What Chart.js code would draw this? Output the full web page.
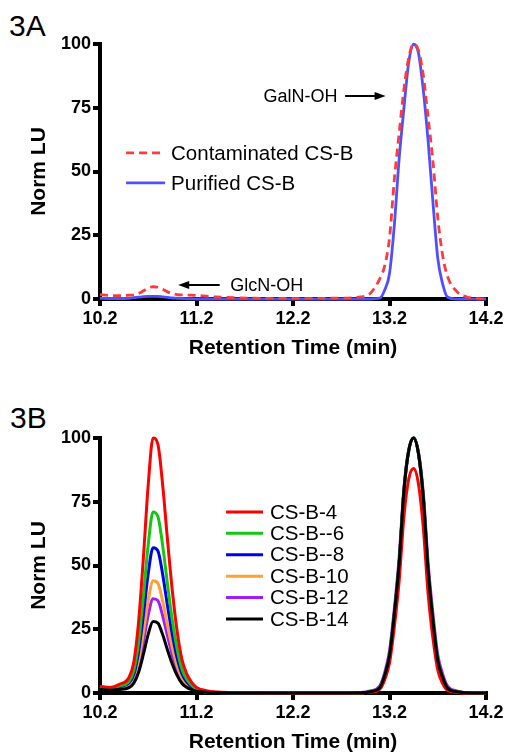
<!DOCTYPE html>
<html>
<head>
<meta charset="utf-8">
<script src="https://cdn.jsdelivr.net/npm/chart.js@4/dist/chart.umd.min.js"></script>
<style>
  html, body { margin: 0; padding: 0; background: #fff; overflow: hidden; }
  body { width: 507px; height: 755px; position: relative; font-family: "Liberation Sans", Arial, sans-serif; }
  .panel { position: absolute; left: 0; }
  .tag { position: absolute; font-size: 30px; color: #000; }
</style>
</head>
<body>
<div class="tag" style="left:9px;top:9px">3A</div>
<div class="tag" style="left:10px;top:401px">3B</div>
<canvas id="chartA" class="panel" style="top:0" width="507" height="380"></canvas>
<canvas id="chartB" class="panel" style="top:394px" width="507" height="380"></canvas>
<script>
// retention times (min), shared by both panels
const times = [10.2, 10.3, 10.4, 10.5, 10.55, 10.6, 10.65, 10.7, 10.75, 10.8, 10.85, 10.9, 10.95, 11.0,
  11.05, 11.1, 11.15, 11.2, 11.3, 11.4,
  11.8, 12.2, 12.6, 12.9,
  13.0, 13.1, 13.15, 13.2, 13.25, 13.3, 13.35, 13.4, 13.45, 13.5, 13.55, 13.6, 13.65, 13.7, 13.75, 13.8,
  13.9, 14.0, 14.1, 14.2];

const xTicks = [10.2, 11.2, 12.2, 13.2, 14.2];
const yTicks = [0, 25, 50, 75, 100];

// panel A
const contaminated = [1.8, 1.4, 1.3, 1.5, 1.6, 2.2, 3.2, 4.3, 4.8, 4.6, 3.8, 2.8, 2.1, 1.7,
  1.6, 1.5, 1.5, 1.4, 1.1, 0.8,
  0.3, 0.2, 0.3, 0.8,
  2.2, 8, 13, 24, 46.8, 65, 82.4, 94.8, 100, 97.5, 87.8, 71.2, 54, 32, 17.2, 9,
  2.8, 0.8, 0.2, 0];
const purified = [0.3, 0.2, 0.2, 0.3, 0.5, 0.7, 0.9, 1.0, 1.0, 1.0, 0.8, 0.6, 0.4, 0.3,
  0.2, 0.1, 0.1, 0, 0, 0,
  0, 0, 0, 0,
  0, 0.3, 3.5, 10, 29, 55, 75, 93, 99.9, 96.5, 82, 62, 38, 16, 6, 0.8,
  0, 0, 0, 0];

// panel B
const csb4 = [2.7, 2.2, 3.4, 6.1, 12.1, 27.9, 53.3, 81.8, 100, 97.5, 81.3, 59.8, 39.9, 24.0,
  13.0, 7.4, 4.2, 2.2, 0.9, 0.4,
  0.1, 0, 0, 0.1,
  0.3, 1.5, 5.2, 11.8, 26, 44, 69.5, 84, 88, 82, 65, 39, 21.5, 9, 3.8, 1.1,
  0.2, 0, 0, 0];
const csb6 = [2.4, 1.9, 2.8, 4.6, 8.8, 20, 38.1, 58.3, 71, 69.2, 57.7, 42.5, 28.3, 17.1,
  9.2, 5.3, 3.1, 1.6, 0.7, 0.3,
  0.1, 0, 0, 0.1,
  0.5, 2.1, 6.9, 14.7, 31, 50.9, 79.5, 95.2, 100, 93.9, 76.8, 48.4, 28.6, 12.9, 6.3, 2,
  0.5, 0.1, 0, 0];
const csb8 = [2.2, 1.8, 2.4, 3.9, 7.2, 16.2, 30.7, 46.9, 57, 55.7, 46.4, 34.1, 22.8, 13.7,
  7.5, 4.3, 2.5, 1.3, 0.5, 0.2,
  0.1, 0, 0, 0.1,
  0.5, 2.1, 6.9, 14.7, 31, 50.9, 79.5, 95.2, 100, 93.9, 76.8, 48.4, 28.6, 12.9, 6.3, 2,
  0.5, 0.1, 0, 0];
const csb10 = [2.0, 1.6, 2.1, 3.2, 5.8, 12.7, 23.8, 36.3, 44, 43, 35.9, 26.4, 17.7, 10.6,
  5.8, 3.3, 2.0, 1.1, 0.4, 0.2,
  0.1, 0, 0, 0.1,
  0.5, 2.1, 6.9, 14.7, 31, 50.9, 79.5, 95.2, 100, 93.9, 76.8, 48.4, 28.6, 12.9, 6.3, 2,
  0.5, 0.1, 0, 0];
const csb12 = [1.8, 1.4, 1.9, 2.8, 4.9, 10.7, 20.1, 30.6, 37, 36.2, 30.2, 22.3, 14.8, 9,
  5, 2.8, 1.7, 0.9, 0.4, 0.2,
  0.1, 0, 0, 0.2,
  0.8, 2.8, 8, 16.5, 33, 53, 80.5, 95.5, 100, 94.5, 78.5, 51, 31, 15, 7.5, 2.8,
  0.7, 0.1, 0, 0];
const csb14 = [1.4, 1.1, 1.4, 2.1, 3.8, 8.1, 15.2, 23.1, 28, 27.4, 22.8, 16.8, 11.3, 6.8,
  3.7, 2.2, 1.3, 0.7, 0.3, 0.1,
  0, 0, 0, 0.1,
  0.5, 2.1, 6.9, 14.7, 31, 50.9, 79.5, 95.2, 100, 93.9, 76.8, 48.4, 28.6, 12.9, 6.3, 2,
  0.5, 0.1, 0, 0];

const points = vals => times.map((t, i) => ({ x: t, y: vals[i] }));

// legend drawn inside the plot, anchored in data units
const inlineLegend = {
  id: 'inlineLegend',
  afterDatasetsDraw(chart, args, opts) {
    const { ctx, scales: { x, y } } = chart;
    const left = x.getPixelForValue(opts.x);
    let top = y.getPixelForValue(opts.y);
    ctx.save();
    ctx.font = opts.font;
    ctx.textBaseline = 'middle';
    chart.data.datasets.forEach(ds => {
      ctx.strokeStyle = ds.borderColor;
      ctx.lineWidth = ds.borderWidth;
      ctx.setLineDash(ds.borderDash || []);
      ctx.beginPath();
      ctx.moveTo(left, top);
      ctx.lineTo(left + opts.sample, top);
      ctx.stroke();
      ctx.setLineDash([]);
      ctx.fillStyle = '#000';
      ctx.fillText(ds.label, left + opts.sample + opts.gap, top + 1);
      top += opts.rowHeight;
    });
    ctx.restore();
  }
};

// peak labels with arrows
const peakNotes = {
  id: 'peakNotes',
  afterDatasetsDraw(chart, args, opts) {
    if (!opts.notes) return;
    const { ctx, scales: { x, y } } = chart;
    ctx.save();
    ctx.font = opts.font;
    ctx.textBaseline = 'middle';
    ctx.fillStyle = '#000';
    ctx.strokeStyle = '#000';
    ctx.lineWidth = 2;
    opts.notes.forEach(n => {
      const py = y.getPixelForValue(n.y);
      ctx.textAlign = n.align;
      ctx.fillText(n.text, x.getPixelForValue(n.x), py + 1);
      const x0 = x.getPixelForValue(n.from), x1 = x.getPixelForValue(n.to);
      const dir = Math.sign(x1 - x0);
      ctx.beginPath();
      ctx.moveTo(x0, py);
      ctx.lineTo(x1 - dir * 8, py);
      ctx.stroke();
      ctx.beginPath();
      ctx.moveTo(x1, py);
      ctx.lineTo(x1 - dir * 11, py - 4);
      ctx.lineTo(x1 - dir * 11, py + 4);
      ctx.closePath();
      ctx.fill();
    });
    ctx.restore();
  }
};

function makeOptions(legendOpts, notes) {
  const tickFont = { family: 'Liberation Sans', size: 18, weight: 'bold' };
  const titleFont = { family: 'Liberation Sans', size: 21, weight: 'bold' };
  const grid = { drawOnChartArea: false, lineWidth: 4, color: '#000', tickLength: 7, tickWidth: 4, tickColor: '#000' };
  return {
    responsive: false,
    animation: false,
    layout: { padding: { top: 44, right: 21, left: 0, bottom: 0 } },
    elements: { point: { radius: 0 } },
    plugins: {
      legend: { display: false },
      tooltip: { enabled: false },
      inlineLegend: legendOpts,
      peakNotes: { font: '18px "Liberation Sans"', notes: notes }
    },
    scales: {
      x: {
        type: 'linear', min: 10.2, max: 14.2,
        afterBuildTicks: s => { s.ticks = xTicks.map(v => ({ value: v })); },
        afterFit: s => { s.height = 81; },
        grid: grid,
        border: { display: true, width: 4, color: '#000' },
        ticks: { color: '#000', font: tickFont, padding: 2, maxRotation: 0,
          callback: v => v.toFixed(1) },
        title: { display: true, text: 'Retention Time (min)', color: '#000', font: titleFont,
          padding: { top: 0, bottom: 19 } }
      },
      y: {
        min: 0, max: 100,
        afterBuildTicks: s => { s.ticks = yTicks.map(v => ({ value: v })); },
        afterFit: s => { s.width = 100; },
        grid: grid,
        border: { display: true, width: 4, color: '#000' },
        ticks: { color: '#000', font: tickFont, padding: 2 },
        title: { display: true, text: 'Norm LU', color: '#000', font: titleFont,
          padding: { top: 27, bottom: 0 } }
      }
    }
  };
}

const lineDefaults = { fill: false, cubicInterpolationMode: 'monotone', clip: 6 };

new Chart(document.getElementById('chartA'), {
  type: 'line',
  data: {
    datasets: [
      { ...lineDefaults, label: 'Contaminated CS-B', data: points(contaminated),
        borderColor: '#ff3a3a', borderWidth: 2.8, borderDash: [8, 5] },
      { ...lineDefaults, label: 'Purified CS-B', data: points(purified),
        borderColor: '#4f4fff', borderWidth: 2.8 }
    ]
  },
  options: makeOptions(
    { x: 10.47, y: 57.3, sample: 39, gap: 6, rowHeight: 30, font: '20.5px "Liberation Sans"' },
    [
      { text: 'GalN-OH', x: 12.66, y: 79.6, align: 'right', from: 12.74, to: 13.16 },
      { text: 'GlcN-OH', x: 11.55, y: 5.5, align: 'left', from: 11.44, to: 11.01 }
    ]
  ),
  plugins: [inlineLegend, peakNotes]
});

new Chart(document.getElementById('chartB'), {
  type: 'line',
  data: {
    datasets: [
      { ...lineDefaults, label: 'CS-B-4', data: points(csb4), borderColor: '#ff0000', borderWidth: 3, order: 1 },
      { ...lineDefaults, label: 'CS-B--6', data: points(csb6), borderColor: '#11c711', borderWidth: 3, order: 2 },
      { ...lineDefaults, label: 'CS-B--8', data: points(csb8), borderColor: '#0000ee', borderWidth: 3, order: 3 },
      { ...lineDefaults, label: 'CS-B-10', data: points(csb10), borderColor: '#ffa033', borderWidth: 3, order: 4 },
      { ...lineDefaults, label: 'CS-B-12', data: points(csb12), borderColor: '#a01cff', borderWidth: 3, order: 5 },
      { ...lineDefaults, label: 'CS-B-14', data: points(csb14), borderColor: '#000000', borderWidth: 3, order: 0 }
    ]
  },
  options: makeOptions(
    { x: 11.506, y: 71, sample: 37, gap: 7, rowHeight: 21.4, font: '20.5px "Liberation Sans"' },
    null
  ),
  plugins: [inlineLegend, peakNotes]
});
</script>
</body>
</html>
